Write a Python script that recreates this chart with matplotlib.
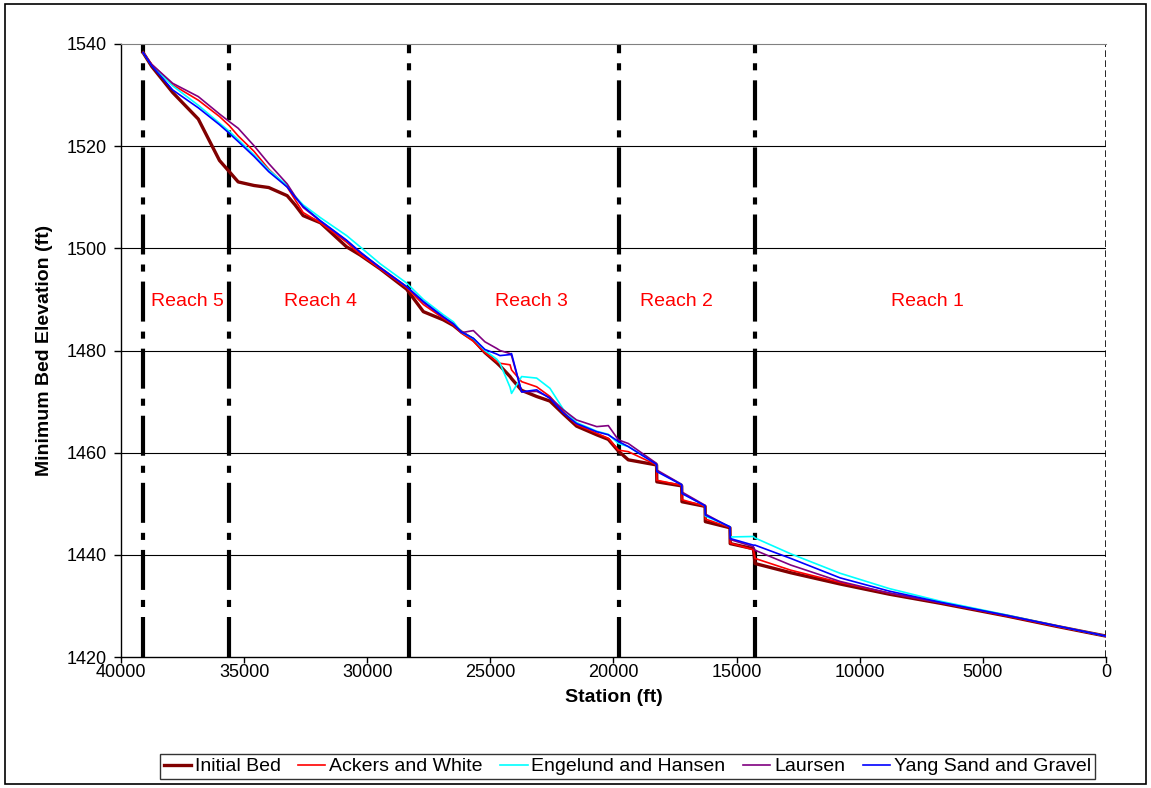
import matplotlib
matplotlib.use('Agg')
import matplotlib.pyplot as plt
from matplotlib.patches import Rectangle

plt.rcParams['font.family'] = ['Liberation Sans', 'DejaVu Sans']

# Station (ft) of each cross section, upstream -> downstream
station = [39100, 38750, 37900, 36860, 36000, 35600, 35240, 34600, 34000, 33250,
           32930, 32600, 31900, 30840, 30290, 29480, 28400, 27720, 26910, 26500,
           26170, 25690, 25220, 24740, 24610, 24200, 24140, 23730, 23120, 22580,
           22040, 21500, 20680, 20210, 19800, 19400, 18250, 18240, 17230, 17220,
           16280, 16270, 15270, 15260, 14320, 14250, 12800, 10800, 8800, 6700,
           4000, 2000, 0]

initial_bed = [1538.3, 1535.6, 1530.5, 1525.3, 1517.2, 1515.0, 1513.0, 1512.3, 1511.9, 1510.3,
               1508.5, 1506.4, 1505.0, 1500.3, 1498.7, 1496.0, 1492.0, 1487.6, 1486.0, 1484.9,
               1483.6, 1482.1, 1479.6, 1477.6, 1477.0, 1474.9, 1474.5, 1472.2, 1471.0, 1470.1,
               1467.6, 1465.2, 1463.5, 1462.6, 1460.3, 1458.6, 1457.6, 1454.3, 1453.5, 1450.4,
               1449.5, 1446.5, 1445.3, 1442.2, 1441.2, 1438.3, 1436.5, 1434.3, 1432.3, 1430.5,
               1428.0, 1426.0, 1424.1]

ackers_white = [1538.3, 1536.0, 1532.0, 1529.0, 1525.8, 1524.0, 1522.0, 1519.0, 1515.5, 1512.0,
                1509.5, 1507.0, 1505.0, 1501.2, 1498.8, 1496.0, 1492.3, 1489.0, 1486.3, 1485.0,
                1483.4, 1481.8, 1479.6, 1477.8, 1477.5, 1477.2, 1476.2, 1473.9, 1472.9, 1471.0,
                1468.0, 1465.5, 1463.8, 1462.8, 1460.5, 1460.2, 1457.6, 1454.6, 1453.6, 1450.8,
                1449.5, 1447.0, 1445.4, 1442.3, 1441.0, 1439.3, 1437.0, 1434.6, 1432.5, 1430.6,
                1428.0, 1426.0, 1424.1]

engelund_hansen = [1538.3, 1535.8, 1531.8, 1528.0, 1524.5, 1522.9, 1521.3, 1518.3, 1515.3, 1512.3,
                   1510.2, 1508.5, 1506.0, 1502.5, 1500.3, 1497.0, 1493.2, 1490.0, 1487.0, 1485.6,
                   1483.6, 1482.3, 1480.0, 1478.3, 1477.5, 1472.8, 1471.6, 1474.9, 1474.6, 1472.6,
                   1468.5, 1465.9, 1464.2, 1463.6, 1461.8, 1461.2, 1457.8, 1456.4, 1453.8, 1452.1,
                   1449.6, 1447.6, 1445.5, 1443.5, 1443.6, 1443.3, 1440.2, 1436.4, 1433.4, 1430.9,
                   1428.2, 1426.1, 1424.1]

laursen = [1538.3, 1536.0, 1532.3, 1529.7, 1526.3, 1524.8, 1523.5, 1520.1, 1516.6, 1512.6,
           1510.2, 1508.0, 1505.3, 1501.5, 1499.2, 1496.3, 1492.5, 1489.4, 1486.5, 1485.2,
           1483.5, 1483.9, 1481.7, 1480.4, 1480.0, 1479.4, 1479.0, 1471.9, 1472.0, 1470.8,
           1468.4, 1466.4, 1465.1, 1465.3, 1462.5, 1461.8, 1457.9, 1456.6, 1453.8, 1452.3,
           1449.7, 1448.0, 1445.4, 1443.0, 1441.6, 1440.9, 1438.0, 1434.8, 1432.5, 1430.6,
           1428.1, 1426.1, 1424.1]

yang = [1538.3, 1535.7, 1531.0, 1527.5, 1524.2, 1522.5, 1520.9, 1518.0, 1515.0, 1512.0,
        1510.0, 1508.2, 1505.4, 1501.6, 1499.3, 1496.2, 1492.5, 1489.6, 1486.6, 1485.2,
        1483.6, 1482.4, 1480.2, 1479.3, 1479.0, 1479.2, 1479.4, 1471.9, 1472.3, 1470.6,
        1467.8, 1465.7, 1464.1, 1463.5, 1462.2, 1461.2, 1457.7, 1456.3, 1453.7, 1452.0,
        1449.6, 1447.8, 1445.5, 1443.2, 1441.9, 1441.9, 1439.3, 1435.5, 1432.9, 1430.7,
        1428.1, 1426.1, 1424.1]

# reach boundaries and labels
reach_bounds = [39100, 35620, 28300, 19780, 14250]
reach_names = ['Reach 5', 'Reach 4', 'Reach 3', 'Reach 2', 'Reach 1']
reach_label_x = [37300, 31900, 23350, 17450, 7250]
reach_label_y = 1489.5

fig = plt.figure(figsize=(11.51, 7.88), dpi=100)
ax = fig.add_axes([0.1051, 0.1662, 0.8558, 0.7780])

# outer chart border
fig.patches.append(Rectangle((0.004, 0.005), 0.992, 0.99, transform=fig.transFigure,
                             fill=False, edgecolor='black', linewidth=1.2))

for yv in [1440, 1460, 1480, 1500, 1520]:
    ax.axhline(yv, color='black', linewidth=0.8, zorder=1)

for xb in reach_bounds:
    ax.axvline(xb, color='black', linewidth=3, dashes=[9.6, 2.4, 1.7, 2.4], zorder=2)
ax.axvline(0, color='black', linewidth=1.2, dashes=[4, 2], zorder=2)

ax.plot(station, initial_bed, color='#800000', linewidth=2.4, label='Initial Bed', zorder=3)
ax.plot(station, ackers_white, color='#FF0000', linewidth=1.2, label='Ackers and White', zorder=4)
ax.plot(station, engelund_hansen, color='#00FFFF', linewidth=1.2, label='Engelund and Hansen', zorder=4)
ax.plot(station, laursen, color='#800080', linewidth=1.2, label='Laursen', zorder=5)
ax.plot(station, yang, color='#0000FF', linewidth=1.2, label='Yang Sand and Gravel', zorder=6)

for name, xl in zip(reach_names, reach_label_x):
    ax.text(xl, reach_label_y, name, color='red', fontsize=14, ha='center', va='center')

ax.set_xlim(40000, 0)
ax.set_ylim(1420, 1540)
ax.set_xticks(range(40000, -1, -5000))
ax.set_yticks(range(1420, 1541, 20))
ax.tick_params(labelsize=13, width=1, color='black')
ax.tick_params(axis='y', length=5, pad=5)
ax.tick_params(axis='x', length=4, pad=1)

ax.spines['top'].set_color('#808080')
ax.spines['right'].set_visible(False)
ax.spines['left'].set_linewidth(1)
ax.spines['bottom'].set_linewidth(1)

ax.set_xlabel('Station (ft)', fontsize=14, fontweight='bold', labelpad=6)
ax.set_ylabel('Minimum Bed Elevation (ft)', fontsize=14, fontweight='bold', labelpad=10)

leg = ax.legend(loc='center', bbox_to_anchor=(0.514, -0.1786), ncol=5, fontsize=14,
                frameon=True, fancybox=False, edgecolor='black', handlelength=1.4,
                handletextpad=0.2, columnspacing=0.9, borderpad=0.2)
leg.get_frame().set_linewidth(1)

fig.savefig('out.png', dpi=100)
